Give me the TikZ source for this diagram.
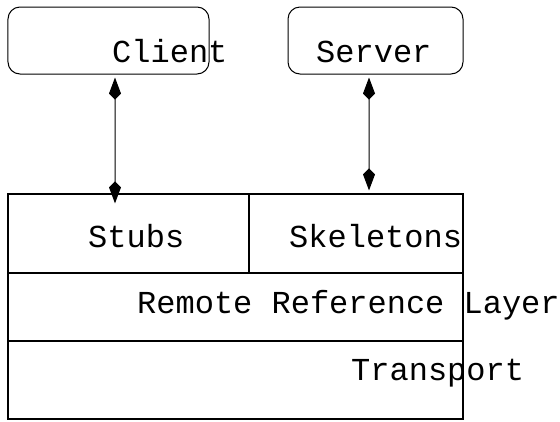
\documentclass[tikz,border=0pt]{standalone}
\usepackage{fontspec}
\setmonofont{Liberation Mono}
\usetikzlibrary{arrows.meta}

\begin{document}
\begin{tikzpicture}[x=1bp,y=-1bp,
        box/.style={draw,line width=1.2bp,minimum height=#1,inner sep=0pt},
        proc/.style={draw,line width=1bp,rounded corners=12bp,minimum height=67bp,inner sep=0pt},
        lbl/.style={anchor=base west,inner sep=0pt,font=\ttfamily\fontsize{32bp}{38bp}\selectfont},
        arr/.style={line width=1bp,{Kite[length=22bp,width=12bp,inset=6bp]}-{Kite[length=22bp,width=12bp,inset=6bp]}}]
        \useasboundingbox (0,0) rectangle (560,421);

        \node[proc,minimum width=201bp] (client) at (108.5,40.5) {};
        \node[proc,minimum width=175bp] (server) at (375.5,40.5) {};

        \node[box=79bp,minimum width=241bp] (stubs) at (128.5,233.5) {};
        \node[box=79bp,minimum width=214bp] (skel) at (356,233.5) {};
        \node[box=68bp,minimum width=455bp] (rrl) at (235.5,307) {};
        \node[box=78bp,minimum width=455bp] (trans) at (235.5,380) {};

        \node[lbl] (clientlbl) at (112,62) {Client};
        \node[lbl] (serverlbl) at (316,62) {Server};
        \node[lbl] (stubslbl) at (88,247) {Stubs};
        \node[lbl] (skellbl) at (289,247) {Skeletons};
        \node[lbl] (rrllbl) at (137,313) {Remote Reference Layer};
        \node[lbl] (translbl) at (351,380) {Transport};

        \draw[arr,shorten <=3bp,shorten >=-10bp] ([xshift=6.5bp]client.south) -- ([xshift=-13.5bp]stubs.north);
        \draw[arr,shorten <=3bp,shorten >=3bp] ([xshift=-6.5bp]server.south) -- ([xshift=13bp]skel.north);
    \end{tikzpicture}
\end{document}
